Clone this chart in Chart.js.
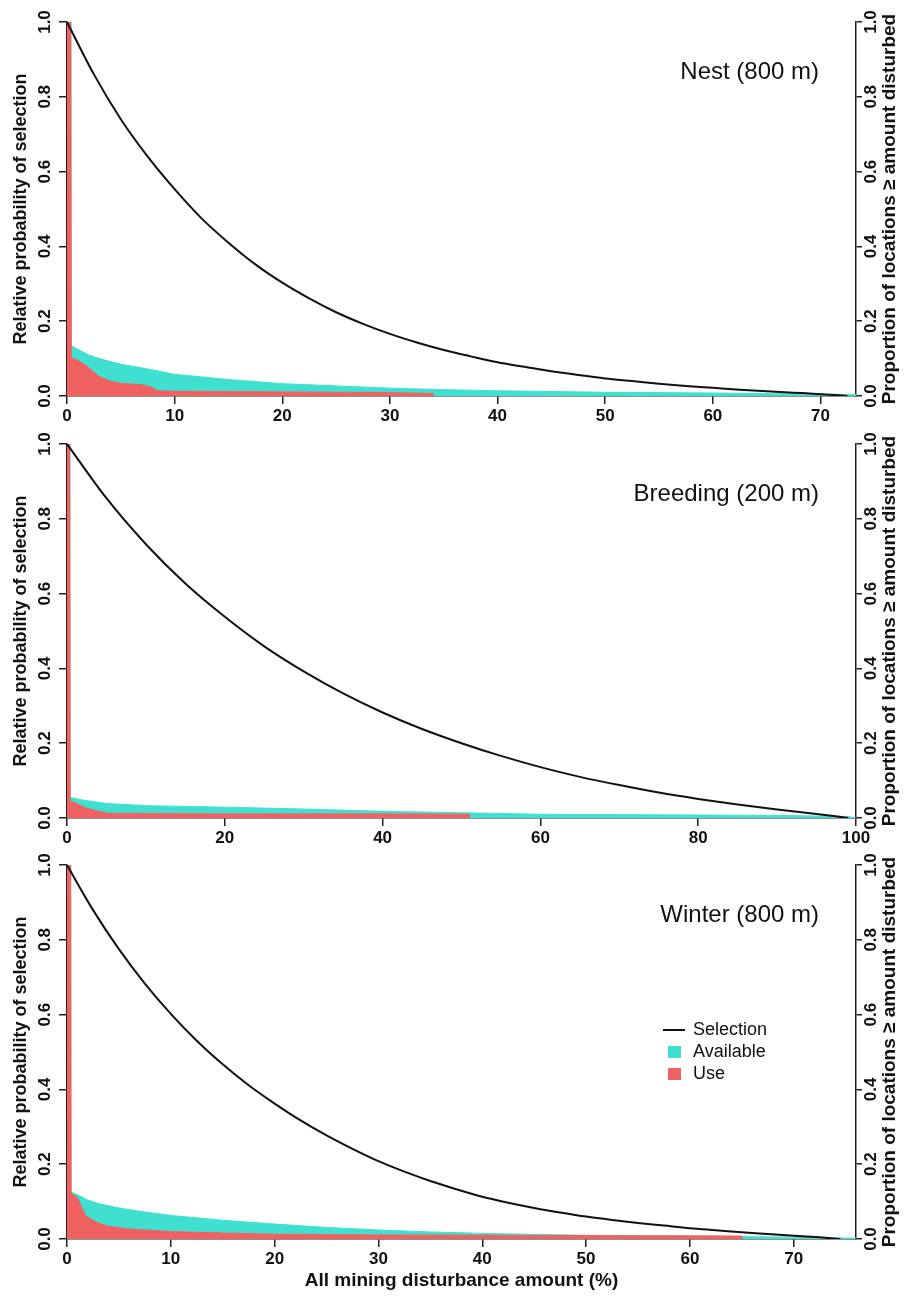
<!DOCTYPE html>
<html lang="en">
<head>
  <meta charset="UTF-8" />
  <title>Mining disturbance selection</title>
  <script src="https://cdn.jsdelivr.net/npm/chart.js"></script>
  <style>
    body { margin: 0; background: #fff; }
    .wrap { position: relative; width: 907px; height: 1296px; }
    canvas { position: absolute; left: 0; }
  </style>
</head>
<body>
  <div class="wrap">
    <canvas id="nest" width="907" height="430" style="top:0px"></canvas>
    <canvas id="breeding" width="907" height="430" style="top:422px"></canvas>
    <canvas id="winter" width="907" height="453" style="top:843px"></canvas>
  </div>

  <script>
    // values: [disturbance %, value]
    const nestSelection = [[0,1],[2.5,0.86],[5,0.74],[7.5,0.64],[10,0.553],[12.5,0.475],[15,0.41],[17.5,0.352],[20,0.303],[22.5,0.261],[25,0.224],[27.5,0.193],[30,0.166],[32.5,0.143],[35,0.123],[37.5,0.106],[40,0.09],[42.5,0.078],[45,0.066],[47.5,0.056],[50,0.047],[52.5,0.04],[55,0.033],[57.5,0.027],[60,0.022],[62.5,0.017],[65,0.013],[67.5,0.009],[70,0.005],[72.5,0]];
    const nestAvailable = [[0,1],[0.3,1],[0.35,0.135],[1,0.125],[2,0.11],[3,0.1],[5,0.085],[7,0.075],[10,0.058],[15,0.044],[20,0.033],[25,0.027],[30,0.021],[35,0.017],[40,0.014],[50,0.01],[60,0.008],[70,0.005],[73.3,0.004]];
    const nestUse = [[0,1],[0.35,1],[0.4,0.103],[1,0.095],[1.7,0.083],[3,0.052],[4,0.04],[5,0.034],[7,0.03],[7.8,0.024],[8.5,0.014],[10,0.013],[20,0.011],[30,0.009],[34,0.007],[34,0]];

    const breedSelection = [[0,1],[5,0.855],[10,0.732],[15,0.627],[20,0.538],[25,0.459],[30,0.392],[35,0.333],[40,0.282],[45,0.238],[50,0.2],[55,0.166],[60,0.136],[65,0.11],[70,0.088],[75,0.068],[80,0.051],[85,0.036],[90,0.023],[95,0.011],[99,0]];
    const breedAvailable = [[0,1],[0.3,1],[0.35,0.055],[2,0.048],[5,0.039],[10,0.033],[20,0.029],[30,0.024],[40,0.018],[50,0.014],[60,0.01],[70,0.009],[80,0.008],[90,0.007],[99,0.004],[100,0]];
    const breedUse = [[0,1],[0.35,1],[0.4,0.046],[2.5,0.026],[5,0.013],[10,0.012],[20,0.011],[40,0.011],[51,0.01],[51,0]];

    const winterSelection = [[0,1],[2.5,0.88],[5,0.775],[7.5,0.683],[10,0.602],[12.5,0.53],[15,0.467],[17.5,0.411],[20,0.362],[22.5,0.317],[25,0.277],[27.5,0.241],[30,0.208],[32.5,0.18],[35,0.155],[37.5,0.133],[40,0.113],[42.5,0.097],[45,0.083],[47.5,0.071],[50,0.06],[52.5,0.051],[55,0.043],[57.5,0.036],[60,0.029],[62.5,0.0235],[65,0.018],[67.5,0.0135],[70,0.009],[72.5,0.0045],[74.5,0]];
    const winterAvailable = [[0,1],[0.3,1],[0.35,0.126],[1,0.118],[2,0.104],[3,0.095],[5,0.083],[7,0.074],[10,0.063],[15,0.05],[20,0.04],[25,0.031],[30,0.024],[35,0.019],[40,0.015],[50,0.01],[60,0.008],[70,0.005],[76,0.002]];
    const winterUse = [[0,1],[0.35,1],[0.4,0.122],[1,0.11],[1.8,0.062],[2.5,0.05],[3,0.043],[4,0.034],[6,0.027],[10,0.02],[15,0.016],[20,0.013],[30,0.011],[40,0.01],[50,0.009],[65,0.008],[65,0]];

    const nestTicks = [0, 10, 20, 30, 40, 50, 60, 70];
    const breedTicks = [0, 20, 40, 60, 80, 100];
    const winterTicks = [0, 10, 20, 30, 40, 50, 60, 70];
    const yTicks = [0, 0.2, 0.4, 0.6, 0.8, 1.0];

    const FONT = "'Liberation Sans', Arial, Helvetica, sans-serif";
    const RED = '#f06262';
    const TEAL = '#40e0d0';
    const AXIS = '#222';
    const RIGHT_TITLE = 'Proportion of locations \u2265 amount disturbed';

    const toXY = pts => pts.map(p => ({ x: p[0], y: p[1] }));
    const setTicks = vals => s => { s.ticks = vals.map(v => ({ value: v })); };

    // panel label, right-hand axis title and (winter only) the legend
    const overlay = {
      id: 'overlay',
      afterDraw(chart, args, opts) {
        const { ctx, chartArea: a } = chart;
        ctx.save();
        ctx.fillStyle = '#111';
        ctx.font = '24px ' + FONT;
        ctx.textAlign = 'right';
        ctx.textBaseline = 'middle';
        ctx.fillText(opts.label, a.right - 37, a.top + 50);

        if (opts.legend) {
          const items = ['Selection', 'Available', 'Use'];
          ctx.font = '18px ' + FONT;
          ctx.textAlign = 'left';
          items.forEach((name, i) => {
            const ds = chart.data.datasets.find(d => d.label === name);
            const y = a.top + 165 + i * 22;
            if (name === 'Selection') {
              ctx.strokeStyle = ds.borderColor;
              ctx.lineWidth = 2;
              ctx.beginPath();
              ctx.moveTo(663, y);
              ctx.lineTo(685, y);
              ctx.stroke();
            } else {
              ctx.fillStyle = ds.backgroundColor;
              ctx.fillRect(668, y - 6, 13, 12);
            }
            ctx.fillStyle = '#111';
            ctx.fillText(name, 693, y);
          });
        }

        ctx.translate(890, (a.top + a.bottom) / 2);
        ctx.rotate(-Math.PI / 2);
        ctx.fillStyle = '#111';
        ctx.font = 'bold 19px ' + FONT;
        ctx.textAlign = 'center';
        ctx.fillText(RIGHT_TITLE, 0, 0);
        ctx.restore();
      }
    };

    function yAxis(position) {
      const left = position === 'left';
      return {
        type: 'linear',
        position: position,
        min: 0,
        max: 1,
        afterBuildTicks: setTicks(yTicks),
        afterFit: s => { s.width = left ? 67 : 51; },
        grid: { drawOnChartArea: false, drawTicks: true, tickLength: left ? 8 : 6, color: AXIS, lineWidth: 1.5 },
        border: { color: AXIS, width: 1.5 },
        ticks: {
          color: '#111',
          font: { family: FONT, size: 17, weight: 'bold' },
          minRotation: 90,
          maxRotation: 90,
          crossAlign: 'center',
          padding: left ? 2 : -3,
          callback: v => v.toFixed(1)
        },
        title: {
          display: left,
          text: 'Relative probability of selection',
          color: '#111',
          font: { family: FONT, size: 18, weight: 'bold' },
          padding: { top: 10, bottom: 0 }
        }
      };
    }

    function panel(id, label, xMax, xTicks, selection, available, use, lastPanel) {
      new Chart(document.getElementById(id), {
        type: 'line',
        data: {
          datasets: [
            { label: 'Selection', data: toXY(selection), borderColor: '#111', borderWidth: 2,
              pointRadius: 0, cubicInterpolationMode: 'monotone', fill: false },
            { label: 'Use', data: toXY(use), borderColor: RED, backgroundColor: RED, borderWidth: 1,
              pointRadius: 0, fill: 'origin' },
            { label: 'Available', data: toXY(available), borderColor: TEAL, backgroundColor: TEAL, borderWidth: 1,
              pointRadius: 0, fill: 'origin' }
          ]
        },
        options: {
          responsive: false,
          animation: false,
          devicePixelRatio: 1,
          layout: { padding: { top: 22, left: 0, right: 0, bottom: 0 } },
          plugins: {
            legend: { display: false },
            tooltip: { enabled: false },
            overlay: { label: label, legend: lastPanel }
          },
          scales: {
            x: {
              type: 'linear',
              min: 0,
              max: xMax,
              afterBuildTicks: setTicks(xTicks),
              afterFit: s => { s.height = lastPanel ? 57 : 34; },
              grid: { drawOnChartArea: false, drawTicks: true, tickLength: 8, color: AXIS, lineWidth: 1.5 },
              border: { color: AXIS, width: 1.5 },
              ticks: { color: '#111', font: { family: FONT, size: 17, weight: 'bold' }, padding: 2, maxRotation: 0 },
              title: {
                display: lastPanel,
                text: 'All mining disturbance amount (%)',
                color: '#111',
                font: { family: FONT, size: 19, weight: 'bold' },
                padding: { top: 0, bottom: 4 }
              }
            },
            y: yAxis('left'),
            y2: yAxis('right')
          }
        },
        plugins: [overlay]
      });
    }

    panel('nest', 'Nest (800 m)', 73.3, nestTicks, nestSelection, nestAvailable, nestUse, false);
    panel('breeding', 'Breeding (200 m)', 100, breedTicks, breedSelection, breedAvailable, breedUse, false);
    panel('winter', 'Winter (800 m)', 76, winterTicks, winterSelection, winterAvailable, winterUse, true);
  </script>
</body>
</html>
